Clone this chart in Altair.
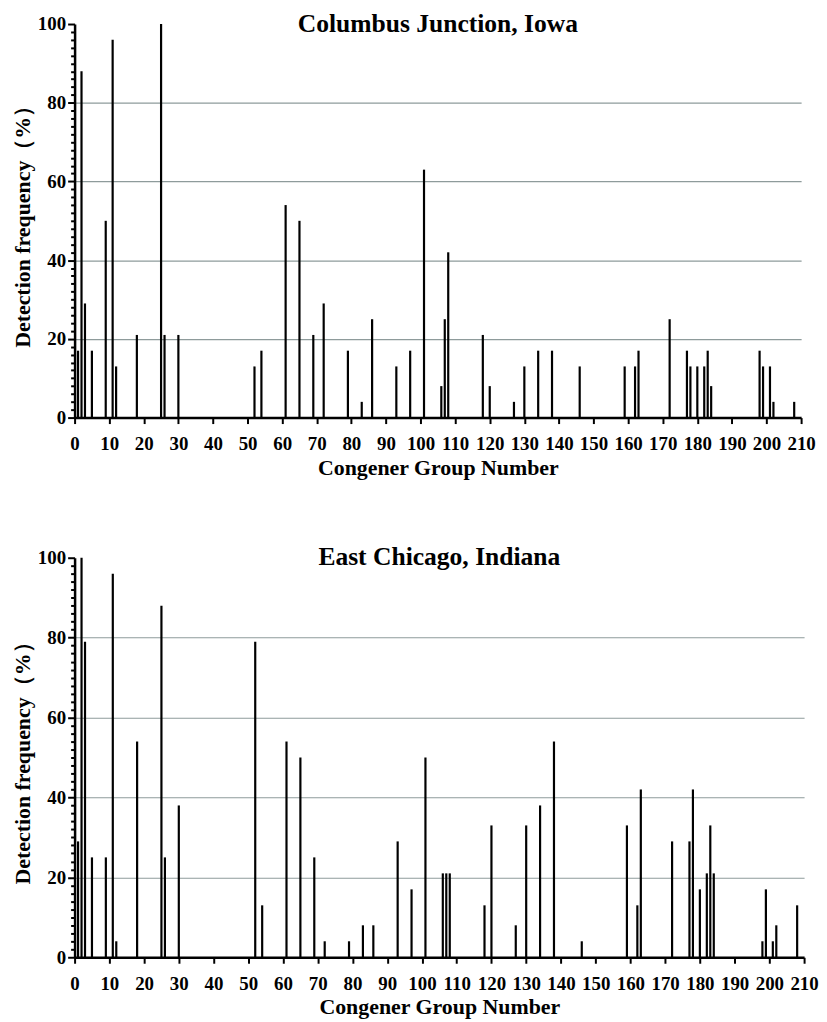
import altair as alt
import pandas as pd

# Columbus Junction, Iowa
top_groups = [1, 2, 3, 5, 9, 11, 12, 18, 25, 26, 30, 52, 54, 61, 65, 69, 72, 79, 83, 86,
              93, 97, 101, 106, 107, 108, 118, 120, 127, 130, 134, 138, 146, 159, 162, 163,
              172, 177, 178, 180, 182, 183, 184, 198, 199, 201, 202, 208]
top_freq = [17, 88, 29, 17, 50, 96, 13, 21, 100, 21, 21, 13, 17, 54, 50, 21, 29, 17, 4, 25,
            13, 17, 63, 8, 25, 42, 21, 8, 4, 13, 17, 17, 13, 13, 13, 17,
            25, 17, 13, 13, 13, 17, 8, 17, 13, 13, 4, 4]

# East Chicago, Indiana
bot_groups = [1, 2, 3, 5, 9, 11, 12, 18, 25, 26, 30, 52, 54, 61, 65, 69, 72, 79, 83, 86,
              93, 97, 101, 106, 107, 108, 118, 120, 127, 130, 134, 138, 146, 159, 162, 163,
              172, 177, 178, 180, 182, 183, 184, 198, 199, 201, 202, 208]
bot_freq = [29, 100, 79, 25, 25, 96, 4, 54, 88, 25, 38, 79, 13, 54, 50, 25, 4, 4, 8, 8,
            29, 17, 50, 21, 21, 21, 13, 33, 8, 33, 38, 54, 4, 33, 13, 42,
            29, 29, 42, 17, 21, 33, 21, 4, 17, 4, 8, 13]

titles = ["Columbus Junction, Iowa", "East Chicago, Indiana"]
x_title = "Congener Group Number"
y_title = "Detection frequency（%）"
x_ticks = list(range(0, 211, 10))
y_ticks = list(range(0, 101, 2))

FONT = "Liberation Serif"


def panel(groups, freq, title, width, height, title_y):
    df = pd.DataFrame({"group": groups, "freq": freq})
    x_axis = alt.Axis(
        values=x_ticks, grid=False, tickSize=6, labelPadding=11, labelFlush=False,
        labelOverlap=False, title=x_title, titlePadding=4,
    )
    y_axis = alt.Axis(
        values=y_ticks,
        tickSize={"condition": {"test": "datum.value % 20 === 0", "value": 7}, "value": 4},
        labelExpr="datum.value % 20 === 0 ? datum.label : ''",
        labelOverlap=False, labelPadding=2, labelFlush=False,
        grid=True,
        gridOpacity={"condition": {"test": "datum.value % 20 === 0 && datum.value > 0 && datum.value < 100", "value": 1}, "value": 0},
        gridColor="#8e9b9b", gridWidth=1.2,
        title=y_title, titlePadding=3,
    )
    bars = alt.Chart(df).mark_rule(strokeWidth=2.2, color="#000000").encode(
        x=alt.X("group:Q", scale=alt.Scale(domain=[0, 210], nice=False, zero=True), axis=x_axis),
        y=alt.Y("freq:Q", scale=alt.Scale(domain=[0, 100], nice=False), axis=y_axis),
        y2=alt.datum(0),
    )
    head = alt.Chart(pd.DataFrame({"title": [title]})).mark_text(
        font=FONT, fontSize=25.7, fontWeight="bold", color="#000000",
        align="center", baseline="alphabetic",
    ).encode(
        text="title:N", x=alt.value(width / 2), y=alt.value(title_y),
    )
    return alt.layer(bars, head).properties(width=width, height=height)


top = panel(top_groups, top_freq, titles[0], 731, 396, 8)
bottom = panel(bot_groups, bot_freq, titles[1], 734, 402, 7)

chart = alt.vconcat(top, bottom, spacing=66).properties(
    padding={"left": 3, "top": 0, "right": 0, "bottom": 0}
).configure_view(stroke=None).configure_axis(
    domainColor="#000000", domainWidth=2.5, tickColor="#000000", tickWidth=2,
    labelFont=FONT, labelFontSize=19, labelFontWeight="bold", labelColor="#000000",
    titleFont=FONT, titleFontSize=22, titleFontWeight="bold", titleColor="#000000",
)

chart.save("out.html", embed_options={"renderer": "svg", "actions": False})
